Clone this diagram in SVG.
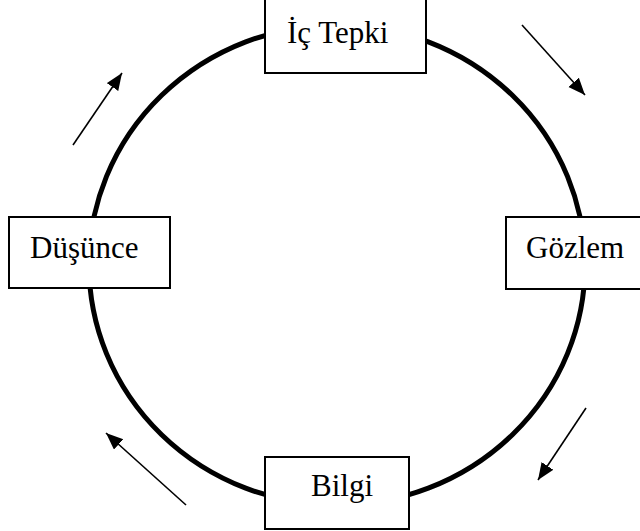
<svg xmlns="http://www.w3.org/2000/svg" width="640" height="531" viewBox="0 0 640 531">
<style>
.box{fill:#fff;stroke:#000;stroke-width:2}
.lbl{font-family:"Liberation Serif","Times New Roman",serif;font-size:31px;fill:#000}
.arr{stroke:#000;stroke-width:1.6;fill:none;marker-end:url(#ah)}
</style>
<defs>
<marker id="ah" markerUnits="userSpaceOnUse" markerWidth="20" markerHeight="16" refX="17" refY="7" orient="auto">
<path d="M0,0 L17,7 L0,14 Z" fill="#000"/>
</marker>
</defs>
<rect width="640" height="531" fill="#fff"/>
<g id="cycle">
<ellipse cx="337" cy="265" rx="248" ry="240" fill="none" stroke="#000" stroke-width="5"/>
</g>
<g id="connectors">
<line class="arr" x1="522" y1="25" x2="585" y2="95"/>
<line class="arr" x1="586" y1="408" x2="538" y2="480"/>
<line class="arr" x1="186" y1="505" x2="106" y2="433"/>
<line class="arr" x1="73" y1="145" x2="122" y2="73"/>
</g>
<g id="ic-tepki">
<rect class="box" x="265" y="-2" width="161" height="75"/>
<text class="lbl" x="287" y="43">İç Tepki</text>
</g>
<g id="gozlem">
<rect class="box" x="506" y="217" width="140" height="72"/>
<text class="lbl" x="526" y="258">Gözlem</text>
</g>
<g id="bilgi">
<rect class="box" x="265" y="457" width="144" height="72"/>
<text class="lbl" x="311" y="496">Bilgi</text>
</g>
<g id="dusunce">
<rect class="box" x="9" y="217" width="161" height="71"/>
<text class="lbl" x="30" y="258">Düşünce</text>
</g>
</svg>
